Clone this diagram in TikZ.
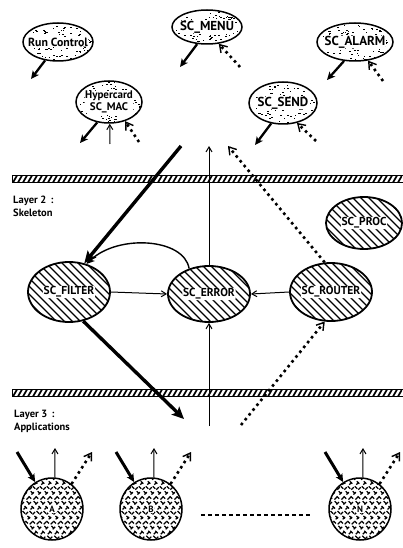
\documentclass[tikz,border=0pt]{standalone}
\usepackage{fontspec}
\setmainfont{PT Sans}
\usetikzlibrary{shapes.geometric,arrows.meta,calc}

% random specks inside an ellipse: centre x, centre y, x radius, y radius, count
\newcommand\speckle[5]{%
  \foreach \i in {1,...,#5}{%
    \pgfmathsetmacro\spang{rnd*360}%
    \pgfmathsetmacro\sprad{0.15+0.8*sqrt(rnd)}%
    \fill ({#1+\sprad*#3*cos(\spang)},{#2+\sprad*#4*sin(\spang)}) rectangle ++(1.6,1);
  }}
% diagonal hatching clipped to an ellipse
\newcommand\hatchfill[4]{%
  \begin{scope}
    \clip (#1,#2) ellipse (#3pt and #4pt);
    \foreach \k in {-130,-122,...,130}
      \draw[line width=1.4pt] ({#1+\k-60},{#2-60}) -- ++(120,120);
  \end{scope}}
% woven short dashes clipped to a circle
\newcommand\weavefill[3]{%
  \begin{scope}
    \clip (#1,#2) circle (#3pt);
    \foreach \k in {-84,-77,...,84}{
      \draw[line width=1.1pt,dash pattern=on 3.5pt off 3.5pt] ({#1+\k-45},{#2+45}) -- ++(90,-90);
      \draw[line width=1.1pt,dash pattern=on 3.5pt off 3.5pt,dash phase=3.5pt] ({#1+\k-45+3.5},{#2-45}) -- ++(90,90);
    }
  \end{scope}}
% hatched layer boundary
\newcommand\layerbar[1]{%
  \begin{scope}
    \clip (12,#1-3.5) rectangle (402,#1+3.5);
    \foreach \k in {8,13,...,410}
      \draw[line width=1.7pt] (\k,#1+3.5) -- (\k+4,#1-3.5);
  \end{scope}
  \draw[line width=0.9pt] (12,#1-3.5) rectangle (404,#1+3.5);}

\begin{document}
\begin{tikzpicture}[x=1pt,y=-1pt,
  topnode/.style={ellipse,draw,line width=1.5pt,inner sep=0pt},
  midnode/.style={ellipse,draw,line width=1.8pt,inner sep=0pt},
  appnode/.style={circle,draw,line width=1.5pt,minimum size=62pt,inner sep=0pt},
  lbl/.style={fill=white,inner sep=0.4pt,rounded corners=2pt,align=center,
    font=\bfseries\fontsize{13}{13}\selectfont},
  runlbl/.style={lbl,font=\bfseries\fontsize{11.8}{12}\selectfont},
  maclbl/.style={lbl,font=\bfseries\fontsize{11}{11.5}\selectfont},
  midlbl/.style={lbl,inner sep=0.8pt,font=\bfseries\fontsize{11.5}{11.5}\selectfont},
  applbl/.style={fill=white,inner sep=0.8pt,font=\bfseries\fontsize{9}{9}\selectfont},
  layerlbl/.style={anchor=north west,align=left,inner sep=0pt,
    font=\bfseries\fontsize{10.5}{12.5}\selectfont},
  heavyarr/.style={line width=3.4pt,-{Stealth[length=12pt,width=11pt,inset=2.5pt]}},
  outarr/.style={line width=2.3pt,-{Stealth[length=8pt,width=7.5pt,inset=2pt]}},
  thinarr/.style={line width=1pt,-{Straight Barb[length=5pt,width=6pt,line width=1pt]}},
  curvearr/.style={line width=1.4pt,-{Stealth[length=8pt,width=7pt,inset=2pt]}},
  dotarr/.style={line width=2.6pt,dash pattern=on 2.6pt off 3.6pt,
    -{Straight Barb[length=7pt,width=9pt,line width=1.4pt]}},
  gapline/.style={line width=1.6pt,dash pattern=on 4pt off 3pt},
]
\useasboundingbox (0,0) rectangle (402,548);
\pgfmathsetseed{1234}

% ---------- layer boundaries ----------
\layerbar{179}
\layerbar{393}
\node[layerlbl] (l2) at (13,196) {Layer 2\hspace{1.5pt} :\\Skeleton};
\node[layerlbl] (l3) at (14,410) {Layer 3\hspace{1.5pt} :\\Applications};

% ---------- layer 1: speckled tools ----------
\speckle{58}{42}{34}{19}{80}
\speckle{207}{27}{34}{17}{80}
\speckle{355}{42}{36}{19}{80}
\speckle{109}{102}{33}{21}{80}
\speckle{283}{103}{33}{21}{80}
\node[topnode,minimum width=70pt,minimum height=38pt] (runc) at (58,42) {};
\node[topnode,minimum width=70pt,minimum height=34pt] (menu) at (207,27) {};
\node[topnode,minimum width=76pt,minimum height=38pt] (alarm) at (355,42) {};
\node[topnode,minimum width=66pt,minimum height=42pt] (mac) at (109,102) {};
\node[topnode,minimum width=68pt,minimum height=42pt] (send) at (283,103) {};
\node[runlbl] (runc-t) at (runc) {Run Control};
\node[lbl] (menu-t) at (menu) {SC\_MENU};
\node[lbl] (alarm-t) at (alarm) {SC\_ALARM};
\node[maclbl] (mac-t) at (mac) {Hypercard\\SC\_MAC};
\node[lbl] (send-t) at (send) {SC\_SEND};

% ---------- layer 2: hatched skeleton ----------
\hatchfill{69}{292}{41}{30}
\hatchfill{209}{294}{41}{28}
\hatchfill{331}{292}{41}{29}
\hatchfill{364}{223}{38}{26}
\node[midnode,minimum width=82pt,minimum height=60pt] (filter) at (69,292) {};
\node[midnode,minimum width=82pt,minimum height=56pt] (err) at (209,294) {};
\node[midnode,minimum width=82pt,minimum height=58pt] (router) at (331,292) {};
\node[midnode,minimum width=76pt,minimum height=52pt] (proc) at (364,223) {};
\node[midlbl] (filter-t) at (filter) {SC\_FILTER};
\node[midlbl] (err-t) at (err) {SC\_ERROR};
\node[midlbl] (router-t) at (router) {SC\_ROUTER};
\node[midlbl] (proc-t) at (proc) {SC\_PROC};

% ---------- layer 3: applications ----------
\weavefill{52}{509}{31}
\weavefill{151}{509}{31}
\weavefill{360}{509}{31}
\node[appnode] (appA) at (52,509) {};
\node[appnode] (appB) at (151,509) {};
\node[appnode] (appN) at (360,509) {};
\node[applbl] (appA-t) at (appA) {A};
\node[applbl] (appB-t) at (appB) {B};
\node[applbl] (appN-t) at (appN) {N};
\draw[gapline] ([xshift=18pt,yshift=-6pt]appB.east) -- ([xshift=-16pt,yshift=-6pt]appN.west);

% ---------- connectors around layer 1 ----------
\coordinate (runc-o) at (31,79);
\coordinate (menu-o) at (180,67);
\coordinate (menu-i) at (240,67);
\coordinate (alarm-o) at (327,80);
\coordinate (alarm-i) at (383,81);
\coordinate (mac-o) at (80,143);
\coordinate (mac-i) at (110,144);
\coordinate (mac-d) at (139,142);
\coordinate (send-o) at (255,145);
\coordinate (send-d) at (316,141);
\draw[outarr] (runc.235) -- (runc-o);
\draw[outarr] (menu.240) -- (menu-o);
\draw[dotarr] (menu-i) -- (menu.305);
\draw[outarr] (alarm.240) -- (alarm-o);
\draw[dotarr] (alarm-i) -- (alarm.305);
\draw[outarr] (mac.240) -- (mac-o);
\draw[thinarr] (mac-i) -- (mac.272);
\draw[dotarr] (mac-d) -- (mac.310);
\draw[outarr] (send.240) -- (send-o);
\draw[dotarr] (send-d) -- (send.305);

% ---------- connectors around layer 2 ----------
\coordinate (down-in) at (181,146);
\coordinate (err-up) at (209,146);
\coordinate (router-up) at (228,146);
\coordinate (err-low) at (209,426);
\coordinate (filter-low) at (184,419);
\coordinate (router-low) at (241,425);
\draw[heavyarr] (down-in) -- (filter.62);
\draw[thinarr] (err.north) -- (err-up);
\draw[dotarr] (router.102) -- (router-up);
\draw[curvearr] (err.128) .. controls (184,238) and (118,234) .. (filter.58);
\draw[thinarr] (filter.east) -- (err.west);
\draw[thinarr] (router.west) -- (err.east);
\draw[thinarr] (err-low) -- (err.south);
\draw[heavyarr] (filter.296) -- (filter-low);
\draw[dotarr] (router-low) -- (router.258);

% ---------- connectors above the applications ----------
\foreach \app/\cx in {appA/52,appB/151,appN/360}{
  \coordinate (\app-h) at (\cx-35,452);
  \coordinate (\app-u) at (\cx+3,448);
  \coordinate (\app-d) at (\cx+40,452);
  \draw[outarr,line width=3pt] (\app-h) -- (\app.122);
  \draw[thinarr] (\app.85) -- (\app-u);
  \draw[dotarr] (\app.52) -- (\app-d);
}
\end{tikzpicture}
\end{document}
